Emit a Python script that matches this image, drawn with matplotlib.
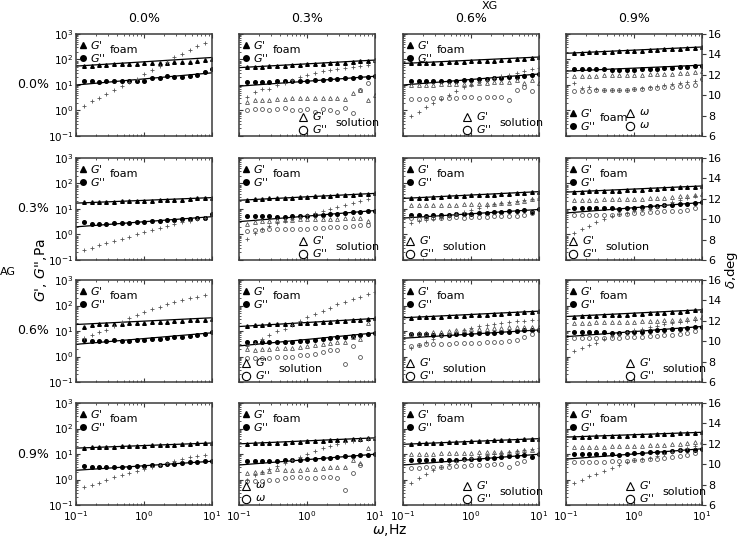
import numpy as np
import matplotlib
matplotlib.use("Agg")
import matplotlib.pyplot as plt

nan = np.nan

# ---- datos ----
freq = [0.13, 0.17, 0.22, 0.28, 0.36, 0.47, 0.6, 0.78, 1.0, 1.3, 1.7, 2.2, 2.8, 3.6, 4.7, 6.0, 7.8, 10.0]
fit_x = [0.1, 10.0]

xg_levels = ["0.0%", "0.3%", "0.6%", "0.9%"]
ag_levels = ["0.0%", "0.3%", "0.6%", "0.9%"]

# G' espuma [fila AG][columna XG]
gp_foam = [
    [[55, 57, 60, 62, 64, 65, 67, 68, 70, 71, 73, 75, 78, 80, 82, 90, 95, 100],
     [50, 52, 53, 55, 57, 58, 60, 62, 64, 66, 68, 70, 73, 76, 80, 85, 90, 95],
     [70, 72, 73, 74, 76, 78, 80, 82, 84, 86, 88, 90, 93, 96, 100, 105, 112, 120],
     [180, 185, 190, 195, 200, 205, 210, 215, 220, 225, 230, 240, 250, 260, 270, 280, 295, 310]],
    [[18, 18, 19, 19, 19, 20, 20, 20, 21, 21, 22, 22, 23, 23, 24, 28, 26, 27],
     [23, 24, 25, 26, 27, 27, 28, 29, 30, 31, 32, 33, 34, 35, 36, 38, 40, 41],
     [27, 28, 28, 29, 30, 31, 32, 33, 34, 35, 36, 37, 38, 40, 42, 44, 45, 47],
     [47, 48, 49, 50, 51, 52, 53, 55, 56, 58, 60, 62, 64, 66, 70, 73, 76, 80]],
    [[15, 17, 18, 18, 19, 19, 20, 20, 21, 22, 22, 23, 24, 25, 26, 28, 28, 29],
     [16, 17, 17, 18, 18, 19, 19, 20, 21, 21, 22, 23, 24, 25, 26, 27, 29, 31],
     [33, 34, 35, 36, 37, 38, 39, 40, 41, 42, 44, 45, 47, 49, 51, 54, 57, 60],
     [37, 38, 39, 40, 41, 42, 43, 44, 46, 47, 49, 51, 53, 55, 58, 61, 64, 68]],
    [[17, 18, 18, 19, 19, 20, 20, 21, 21, 22, 22, 23, 23, 24, 25, 28, 26, 27],
     [25, 26, 26, 27, 28, 28, 29, 30, 31, 32, 33, 34, 35, 36, 38, 40, 42, 43],
     [25, 26, 27, 27, 28, 29, 29, 30, 31, 32, 33, 34, 35, 36, 37, 38, 39, 40],
     [46, 47, 48, 49, 50, 51, 52, 53, 54, 56, 57, 59, 61, 63, 65, 67, 69, 71]],
]

# G'' espuma
gpp_foam = [
    [[14, 14, 13, 14, 14, 14, 14, 15, 14, 19, 19, 22, 21, 21, 23, 24, 32, 42],
     [13, 13, 13, 13, 14, 14, 15, 15, 15, 16, 16, 17, 17, 18, 19, 20, 21, 22],
     [15, 15, 15, 15, 15, 15, 15, 16, 16, 17, 17, 18, 19, 20, 21, 23, 25, 27],
     [42, 42, 42, 41, 41, 40, 40, 40, 40, 42, 42, 44, 45, 47, 50, 52, 55, 58]],
    [[3.0, 2.7, 2.7, 2.7, 2.8, 2.8, 2.9, 3.0, 3.1, 3.3, 3.3, 3.6, 3.7, 4.0, 4.2, 4.5, 4.6, 6.5],
     [5.3, 5.3, 5.3, 5.2, 5.0, 5.0, 5.2, 5.3, 5.5, 5.8, 6.0, 6.3, 6.5, 7.0, 7.3, 7.8, 8.5, 8.7],
     [5.8, 5.6, 5.5, 5.6, 5.8, 6.0, 6.2, 6.3, 6.5, 6.8, 7.0, 7.3, 7.6, 8.0, 8.5, 9.0, 7.5, 9.6],
     [11, 11, 11, 11, 11, 11, 10, 11, 11, 12, 13, 13, 14, 15, 16, 16, 17, 18]],
    [[4.5, 4.2, 4.0, 4.0, 4.5, 4.0, 4.2, 4.3, 4.5, 4.8, 5.0, 5.3, 5.6, 6.0, 6.5, 7.0, 7.5, 9.0],
     [3.8, 3.8, 3.7, 3.8, 3.6, 3.6, 3.8, 4.0, 4.2, 4.5, 4.8, 5.2, 5.6, 6.0, 6.5, 7.0, 7.5, 8.4],
     [7.6, 7.6, 7.8, 7.0, 7.0, 7.2, 7.4, 7.6, 7.8, 8.0, 8.3, 8.6, 9.0, 9.5, 10, 10.5, 11, 11],
     [9.4, 9.3, 9.2, 9.0, 8.8, 8.5, 8.5, 8.8, 9.0, 9.3, 10, 10.5, 11, 12, 12.5, 13, 14, 15]],
    [[3.3, 3.0, 3.0, 3.0, 3.1, 3.1, 3.2, 3.3, 3.5, 3.8, 3.8, 4.0, 4.2, 4.5, 4.8, 5.0, 5.2, 5.3],
     [5.3, 5.3, 5.2, 5.3, 5.5, 5.6, 5.8, 6.0, 6.2, 6.5, 6.8, 7.0, 7.5, 8.0, 8.5, 9.0, 9.5, 9.8],
     [5.8, 5.8, 5.6, 5.6, 5.7, 5.8, 6.0, 6.2, 6.4, 6.6, 6.9, 7.2, 7.5, 8.0, 8.4, 8.8, 7.5, 9.8],
     [10, 10, 10, 10, 10, 9.8, 9.5, 10, 10.5, 11, 11.5, 12, 12.5, 13, 14, 14.5, 15, 16]],
]

# G' disolución (None = sin datos)
gp_sol = [
    [None,
     [2.2, 2.6, 2.6, 2.6, 2.8, 2.9, 3.0, 3.0, 3.1, 3.1, 3.1, 3.0, 3.0, 2.8, 5.0, 6.3, 2.6, 4.0],
     [10, 10, 10, 10, 11, 11, 11, 11, 11, 12, 12, 13, 13, 13, 16, 12, 16, 12],
     [22, 23, 23, 23, 24, 24, 24, 25, 25, 25, 26, 27, 27, 28, 29, 30, 32, 37]],
    [None,
     [2.6, 3.0, 3.3, 3.5, 3.6, 3.7, 3.8, 3.9, 4.0, 4.0, 4.1, 4.2, 4.2, 4.3, 4.4, 4.5, 3.5, nan],
     [15, 15, 15, 15, 15, 15, 15, 16, 16, 16, 16, 16, 17, 17, 18, 20, 24, 27],
     [23, 23, 23, 23, 24, 24, 24, 24, 25, 25, 26, 27, 28, 30, 31, 33, 36, 40]],
    [None,
     [2.0, 1.8, 1.9, 2.0, 2.1, 2.1, 2.2, 2.3, 2.6, 2.8, 3.0, 3.3, 3.6, 3.8, 6, 5, 20, nan],
     [7.6, 8.0, 8.5, 9.0, 9.5, 10, 10.5, 11, 11.5, 12, 12, 13, 13, 14, 15, 14, 15, 15],
     [21, 21, 21, 22, 22, 22, 23, 23, 23, 24, 24, 25, 26, 27, 28, 30, 33, 36]],
    [None,
     [1.8, 1.9, 2.0, 2.2, 2.5, 2.4, 2.4, 2.4, 2.5, 2.6, 2.8, 3.0, 3.2, 3.2, 6.0, 4.3, 17, nan],
     [9.8, 10, 10, 10, 10.5, 10.5, 11, 11, 11, 11.5, 11.5, 12, 12, 12, 13, 14, 15, 12],
     [18, 18, 19, 19, 19, 20, 20, 20, 21, 21, 22, 22, 23, 24, 25, 27, 30, 33]],
]

# G'' disolución
gpp_sol = [
    [None,
     [1.0, 1.1, 1.1, 1.0, 1.1, 1.2, 1.0, 1.0, 1.1, 0.9, 1.1, 1.0, 0.9, 1.2, 0.8, 6.5, 12, nan],
     [2.8, 2.8, 2.9, 3.0, 3.0, 3.1, 3.2, 3.3, 3.3, 3.2, 3.3, 3.5, 3.3, 2.6, 6.3, 8, 6, nan],
     [6.0, 6.0, 6.0, 6.1, 6.2, 6.2, 6.3, 6.5, 6.7, 7.0, 7.3, 7.6, 8.0, 8.5, 9.0, 9.5, 10, 17]],
    [None,
     [1.4, 1.5, 1.5, 1.6, 1.6, 1.7, 1.7, 1.7, 1.7, 1.8, 1.8, 1.9, 1.9, 2.0, 2.2, 2.3, 2.3, nan],
     [4.4, 4.2, 4.3, 4.5, 4.5, 4.6, 4.7, 4.6, 4.8, 5.0, 5.0, 5.2, 5.3, 5.4, 5.5, 6.0, 7.0, nan],
     [5.6, 5.6, 5.6, 5.7, 5.8, 6.0, 6.2, 6.5, 7.0, 7.2, 7.5, 7.8, 8.0, 8.2, 8.5, 9.0, 11, nan]],
    [None,
     [0.87, 0.9, 0.9, 0.9, 0.95, 0.95, 1.0, 1.1, 1.1, 1.3, 1.5, 1.8, 1.8, 0.5, 2.6, 1.0, nan, nan],
     [2.7, 2.8, 3.0, 3.1, 3.2, 3.2, 3.3, 3.4, 3.5, 3.5, 3.6, 3.7, 3.8, 3.9, 4.5, 6.0, 7.6, nan],
     [5.1, 5.1, 5.2, 5.2, 5.3, 5.4, 5.5, 5.6, 5.8, 6.0, 6.2, 6.5, 6.8, 7.0, 7.5, 8.0, 10, nan]],
    [None,
     [0.87, 0.87, 0.9, 0.95, 1.0, 1.1, 1.2, 1.26, 1.1, 1.1, 1.2, 1.2, 1.1, 0.4, 1.8, 3.7, nan, nan],
     [2.9, 2.9, 3.0, 3.0, 3.1, 3.2, 3.3, 3.5, 3.6, 3.7, 3.8, 3.9, 4.0, 3.0, 4.5, 5.3, nan, nan],
     [4.7, 4.7, 4.8, 4.9, 5.0, 5.1, 5.3, 5.5, 5.8, 6.0, 6.3, 6.6, 7.0, 7.5, 8.0, 9.0, 11, nan]],
]

# ángulo de fase delta (grados, eje derecho)
delta = [
    [[8.9, 9.4, 9.7, 10.1, 10.5, 10.9, 11.3, 11.6, 12.1, 12.5, 12.9, 13.3, 13.7, 14.0, 14.4, 14.8, 15.1, nan],
     [9.8, 10.3, 10.6, 10.6, 11.0, 11.2, 11.5, 11.8, 12.0, 12.2, 12.4, 12.5, 12.6, 12.7, 12.8, 12.9, 13.0, 13.4],
     [8.0, 8.4, 8.8, 9.2, 9.6, 10.0, 10.4, 10.8, 11.0, 11.3, 11.5, 11.7, 11.9, 12.0, 12.2, 12.4, 12.6, 12.7],
     [11.2, 10.7, 10.8, 10.6, 10.5, 10.5, 10.5, 10.5, 10.6, 10.7, 10.8, 10.9, 11.0, 11.1, 11.2, 11.3, 11.4, 11.6]],
    [[7.0, 7.2, 7.5, 7.7, 7.9, 8.1, 8.3, 8.5, 8.7, 8.9, 9.1, 9.3, 9.5, 9.7, 9.8, 10.0, 10.1, nan],
     [8.1, 8.6, 9.0, 9.3, 9.6, 9.8, 10.0, 10.2, 10.4, 10.6, 10.8, 11.0, 11.2, 11.4, 11.6, 11.8, 12.0, nan],
     [9.6, 9.8, 9.9, 10.0, 10.1, 10.3, 10.5, 10.7, 10.9, 11.1, 11.3, 11.5, 11.6, 11.7, 11.8, 11.9, 12.0, 12.1],
     [8.6, 9.0, 9.3, 9.7, 10.0, 10.3, 10.5, 10.6, 10.8, 10.9, 11.0, 11.2, 11.4, 11.7, 11.9, 12.1, 12.3, 12.4]],
    [[10.3, 10.6, 10.9, 11.1, 11.5, 11.9, 12.3, 12.6, 12.9, 13.2, 13.4, 13.6, 13.8, 14.0, 14.2, 14.3, 14.5, nan],
     [9.5, 9.8, 10.2, 10.6, 11.0, 11.2, 11.6, 12.0, 12.4, 12.7, 13.0, 13.3, 13.6, 13.8, 14.1, 14.3, 14.6, 14.8],
     [9.3, 9.6, 9.9, 10.2, 10.5, 10.7, 10.9, 11.1, 11.3, 11.5, 11.6, 11.7, 11.8, 11.9, 12.0, 12.0, 12.1, 12.1],
     [9.0, 9.3, 9.6, 9.8, 10.2, 10.5, 10.7, 10.9, 11.1, 11.2, 11.4, 11.5, 11.7, 11.8, 11.9, 12.0, 12.1, 12.3]],
    [[7.8, 8.0, 8.2, 8.5, 8.7, 8.9, 9.1, 9.3, 9.5, 9.7, 9.9, 10.1, 10.3, 10.5, 10.7, 10.8, 10.9, nan],
     [8.5, 8.9, 9.2, 9.5, 9.8, 10.1, 10.4, 10.7, 11.0, 11.3, 11.6, 11.8, 12.0, 12.2, 12.3, 12.4, 12.5, 12.6],
     [8.2, 8.6, 9.0, 9.4, 9.7, 10.0, 10.2, 10.4, 10.6, 10.8, 10.9, 11.0, 11.1, 11.2, 11.3, 11.4, 11.5, 11.6],
     [8.2, 8.5, 8.8, 9.0, 9.3, 9.6, 9.9, 10.2, 10.4, 10.5, 10.6, 10.8, 11.0, 11.2, 11.4, 11.6, 11.8, 12.0]],
]

# ajustes potenciales (valor en 0.1 Hz y en 10 Hz)
fit_gp = [
    [[55, 120], [48, 95], [70, 125], [175, 310]],
    [[17, 28], [22, 41], [26, 48], [46, 80]],
    [[18, 33], [15, 31], [33, 60], [37, 68]],
    [[17, 27], [25, 43], [24, 40], [46, 71]],
]
fit_gpp = [
    [[10, 30], [9, 22], [10, 27], [35, 60]],
    [[2.0, 5.0], [3.2, 8.7], [4.4, 9.6], [7, 18]],
    [[3.0, 8.5], [2.6, 8.4], [5.2, 11], [6, 15]],
    [[2.3, 5.2], [3.7, 9.8], [3.7, 9.8], [6.3, 16]],
]

# posición de la leyenda: 'br' abajo-dcha, 'bl' abajo-izda, 'omega_br', 'omega_bl'
sol_legend = [
    [None, "br", "br", "omega_br"],
    [None, "br", "bl", "bl"],
    [None, "bl", "bl", "br"],
    [None, "omega_bl", "br", "br"],
]

# ---- figura ----
W, H = 739, 540
fig = plt.figure(figsize=(W / 100, H / 100), dpi=100)

col_left = [76, 239, 403, 566]
row_top = [34, 158, 280, 403]
pw, ph = 136, 102
edge = "#3a3a3a"
grey = "#555555"


def add_foam_legend(ax, x0, y0):
    kw = dict(transform=ax.transAxes, clip_on=False)
    ax.plot([x0], [y0], "^", ms=4, color="k", **kw)
    ax.plot([x0], [y0 - 0.13], "o", ms=4, color="k", **kw)
    ax.text(x0 + 0.05, y0, r"$G$'", fontsize=8, va="center", transform=ax.transAxes)
    ax.text(x0 + 0.05, y0 - 0.13, r"$G$''", fontsize=8, va="center", transform=ax.transAxes)
    ax.text(x0 + 0.2, y0 - 0.05, "foam", fontsize=8, va="center", transform=ax.transAxes)


def add_sol_legend(ax, x0, y0, lab1, lab2, word):
    kw = dict(transform=ax.transAxes, clip_on=False, mfc="none", mec="k", mew=0.8)
    ax.plot([x0], [y0], "^", ms=6, **kw)
    ax.plot([x0], [y0 - 0.13], "o", ms=6, **kw)
    ax.text(x0 + 0.07, y0 + 0.01, lab1, fontsize=8, va="center", transform=ax.transAxes)
    ax.text(x0 + 0.07, y0 - 0.12, lab2, fontsize=8, va="center", transform=ax.transAxes)
    if word:
        ax.text(x0 + 0.24, y0 - 0.06, word, fontsize=8, va="center", transform=ax.transAxes)


for r in range(4):
    for c in range(4):
        rect = [col_left[c] / W, 1 - (row_top[r] + ph) / H, pw / W, ph / H]
        ax = fig.add_axes(rect)
        ax.set_xscale("log")
        ax.set_yscale("log")
        ax.set_xlim(0.1, 10)
        ax.set_ylim(0.1, 1000)
        for s in ax.spines.values():
            s.set_color(edge)
            s.set_linewidth(1.1)
        ax.tick_params(which="both", direction="in", top=True, right=(c < 3),
                       labelsize=7.5, colors=edge, labelcolor="k")
        ax.tick_params(axis="y", pad=2)
        ax.tick_params(axis="x", pad=3)
        ax.tick_params(which="major", length=3)
        ax.tick_params(which="minor", length=1.5)
        if c > 0:
            ax.tick_params(labelleft=False)
        if r < 3:
            ax.tick_params(labelbottom=False)

        # ajustes
        ax.plot(fit_x, fit_gp[r][c], "-", color="k", lw=0.9)
        ax.plot(fit_x, fit_gpp[r][c], "-", color="k", lw=0.9)
        # espuma
        ax.plot(freq, gp_foam[r][c], "^", ms=2.6, color="k", ls="none")
        ax.plot(freq, gpp_foam[r][c], "o", ms=2.6, color="k", ls="none")
        # disolución
        if gp_sol[r][c] is not None:
            ax.plot(freq, gp_sol[r][c], "^", ms=2.8, mfc="none", mec=grey, mew=0.6, ls="none")
            ax.plot(freq, gpp_sol[r][c], "o", ms=2.8, mfc="none", mec=grey, mew=0.6, ls="none")

        ax2 = ax.twinx()
        ax2.set_ylim(6, 16)
        ax2.plot(freq, delta[r][c], "+", ms=3, mew=0.6, color=grey, ls="none")
        for s in ax2.spines.values():
            s.set_visible(False)
        if c == 3:
            ax2.set_yticks([6, 8, 10, 12, 14, 16])
            ax2.tick_params(direction="out", length=3, labelsize=8, colors=edge,
                            labelcolor="k", pad=1.5)
        else:
            ax2.set_yticks([])

        # leyendas
        mode = sol_legend[r][c]
        if mode == "omega_br":
            add_foam_legend(ax, 0.05, 0.23)
            add_sol_legend(ax, 0.47, 0.23, r"$\omega$", r"$\omega$", None)
        else:
            add_foam_legend(ax, 0.05, 0.89)
            if mode == "br":
                add_sol_legend(ax, 0.47, 0.19, r"$G$'", r"$G$''", "solution")
            elif mode == "bl":
                add_sol_legend(ax, 0.05, 0.19, r"$G$'", r"$G$''", "solution")
            elif mode == "omega_bl":
                add_sol_legend(ax, 0.05, 0.19, r"$\omega$", r"$\omega$", None)

# títulos de columnas y filas
for c in range(4):
    fig.text((col_left[c] + pw / 2) / W, 1 - 18 / H, xg_levels[c], ha="center", va="center", fontsize=9)
for r in range(4):
    fig.text(33 / W, 1 - (row_top[r] + ph / 2) / H, ag_levels[r], ha="center", va="center", fontsize=9)

fig.text(490 / W, 1 - 6 / H, "XG", ha="center", va="center", fontsize=8)
fig.text(8 / W, 1 - 272 / H, "AG", ha="center", va="center", fontsize=8)
fig.text(41 / W, 1 - 270 / H, r"$G$', $G$'',Pa", ha="center", va="center", rotation=90, fontsize=10)
fig.text(731 / W, 1 - 270 / H, r"$\delta$,deg", ha="center", va="center", rotation=90, fontsize=9.5)
fig.text(390 / W, 1 - 530 / H, r"$\omega$,Hz", ha="center", va="center", fontsize=10)

fig.savefig("out.png", dpi=100)
